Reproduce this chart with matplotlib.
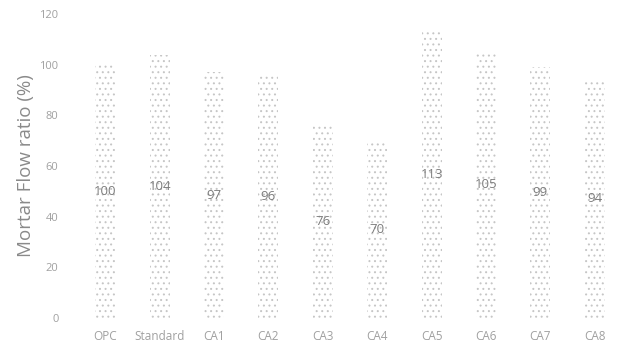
import matplotlib
matplotlib.use("Agg")
import matplotlib.pyplot as plt

categories = ["OPC", "Standard", "CA1", "CA2", "CA3", "CA4", "CA5", "CA6", "CA7", "CA8"]
flow_ratio = [100, 104, 97, 96, 76, 70, 113, 105, 99, 94]
y_ticks = [0, 20, 40, 60, 80, 100, 120]

plt.rcParams["font.family"] = ["Open Sans", "DejaVu Sans"]
plt.rcParams["hatch.linewidth"] = 0.7

fig = plt.figure(figsize=(6.22, 3.49), dpi=100)
ax = fig.add_axes([78 / 622, 31 / 349, 1 - 78 / 622, (318 - 14) / 349])

x = list(range(len(categories)))
ax.bar(x, flow_ratio, width=0.37, color="white", edgecolor="#c6c6c6",
       linewidth=0, hatch="...", zorder=1)

for xi, v in zip(x, flow_ratio):
    ax.text(xi, v / 2, str(v), ha="center", va="center", fontsize=9.5,
            color="#7c7c7c", zorder=5)

ax.set_xlim(-0.5, len(categories) - 0.5)
ax.set_ylim(0, 120)
ax.set_yticks(y_ticks)
ax.set_xticks(x)
ax.set_xticklabels(categories)
ax.tick_params(axis="both", length=0, labelcolor="#a0a0a0")
ax.tick_params(axis="x", pad=9, labelsize=8.5)
ax.tick_params(axis="y", pad=14, labelsize=8)
for s in ax.spines.values():
    s.set_visible(False)

ax.set_ylabel("Mortar Flow ratio (%)", fontsize=13.5, color="#8a8a8a", labelpad=3)

fig.savefig("out.png", dpi=100, facecolor="white")
